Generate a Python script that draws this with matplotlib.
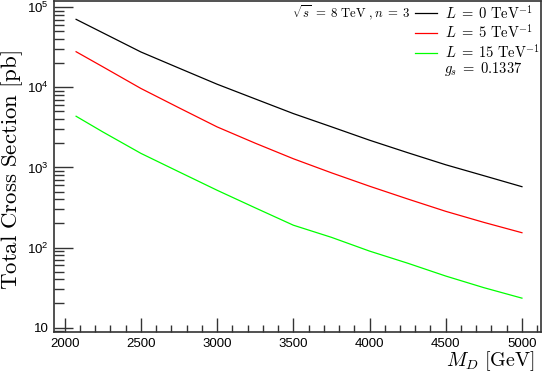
import numpy as np
import matplotlib
matplotlib.use("Agg")
import matplotlib.pyplot as plt
from matplotlib.ticker import FixedLocator, LogLocator, MultipleLocator, NullFormatter, FixedFormatter

plt.rcParams['font.family'] = 'Liberation Sans'
plt.rcParams['mathtext.fontset'] = 'custom'
plt.rcParams['mathtext.rm'] = 'Liberation Sans'
plt.rcParams['mathtext.it'] = 'Liberation Sans:italic'

# M_D in GeV
md = [2075, 2250, 2500, 2750, 3000, 3250, 3500, 3750, 4000, 4250, 4500, 4750, 5000]
# total cross section in pb
xs_L0 = [70800, 48100, 27700, 17400, 10960, 7180, 4710, 3220, 2190, 1530, 1080, 789, 575]
xs_L5 = [27900, 18100, 9700, 5560, 3210, 2010, 1285, 857, 583, 404, 283, 206, 153]
xs_L15 = [4360, 2780, 1500, 881, 519, 313, 190, 134, 90.2, 63.7, 44.0, 31.5, 23.3]

labels = [r'$L\;=\;0\ \mathrm{TeV}^{-1}$', r'$L\;=\;5\ \mathrm{TeV}^{-1}$', r'$L\;=\;15\ \mathrm{TeV}^{-1}$']
colors = ['black', '#ff0000', '#00ff00']

fig = plt.figure(figsize=(5.45, 3.72), dpi=100)
ax = fig.add_axes([54 / 545, 1 - 332 / 372, 487 / 545, 331 / 372])

for ys, c, lab in zip([xs_L0, xs_L5, xs_L15], colors, labels):
    ax.plot(md, ys, color=c, linewidth=0.9, label=lab)

ax.set_yscale('log')
ax.set_xlim(1930, 5125)
ax.set_ylim(8.8, 1.2e5)

# ROOT-like ticks
ax.xaxis.set_major_locator(MultipleLocator(500))
ax.xaxis.set_minor_locator(MultipleLocator(100))
ax.yaxis.set_major_locator(FixedLocator([10, 1e2, 1e3, 1e4, 1e5]))
ax.yaxis.set_major_formatter(FixedFormatter(['10', r'$10^2$', r'$10^3$', r'$10^4$', r'$10^5$']))
ax.yaxis.set_minor_locator(LogLocator(base=10, subs=np.arange(2, 10)))
ax.yaxis.set_minor_formatter(NullFormatter())
ax.tick_params(axis='both', which='both', direction='in', top=False, right=False,
               color='#333333', labelsize=9.5)
ax.tick_params(axis='y', which='major', length=14, width=1.0, pad=4)
ax.tick_params(axis='y', which='minor', length=7, width=1.0)
ax.tick_params(axis='x', which='major', length=10, width=1.0, pad=4)
ax.tick_params(axis='x', which='minor', length=5, width=1.0)
for sp in ax.spines.values():
    sp.set_color('#333333')
    sp.set_linewidth(1.2)

ylab = ax.set_ylabel(r'$\mathrm{Total\ Cross\ Section\ [pb]}$', fontsize=16.5)
ylab.set_math_fontfamily('cm')
ax.yaxis.set_label_coords(-0.06, 0.49)
xlab = ax.set_xlabel(r'$M_D\ \mathrm{[GeV]}$', fontsize=14.5, ha='right', va='top')
xlab.set_math_fontfamily('cm')
ax.xaxis.set_label_coords(0.988, -0.052)

leg = ax.legend(loc='upper left', bbox_to_anchor=((415 - 54) / 487, 0.992), frameon=False, fontsize=10.5,
                handlelength=1.5, handletextpad=0.55, labelspacing=0.12, borderaxespad=0, borderpad=0)
for t in leg.get_texts():
    t.set_math_fontfamily('cm')

t1 = ax.text((483 - 54) / 487, 1 - 68 / 331, r'$g_s\;=\;0.1337$', transform=ax.transAxes, fontsize=10.5,
             ha='center', va='center')
t1.set_math_fontfamily('cm')
t2 = ax.text((351 - 54) / 487, 1 - 12 / 331, r'$\sqrt{s}\;=\;8\ \mathrm{TeV}\ ,n\;=\;3$', transform=ax.transAxes,
             fontsize=9.2, ha='center', va='center')
t2.set_math_fontfamily('cm')

fig.savefig('out.png', dpi=100)
